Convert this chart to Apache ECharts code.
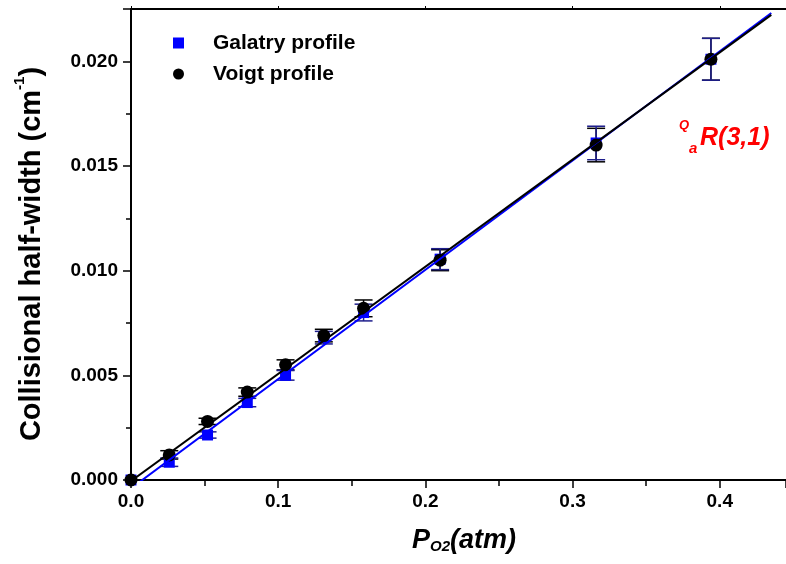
<!DOCTYPE html>
<html>
<head>
<meta charset="utf-8">
<script src="https://cdn.jsdelivr.net/npm/echarts@6/dist/echarts.min.js"></script>
<style>
  html, body { margin: 0; padding: 0; background: #fff; }
  #chart { width: 786px; height: 564px; }
</style>
</head>
<body>
<div id="chart"></div>
<script>
// O2 pressure (atm)
const pressure   = [0, 0.026, 0.052, 0.079, 0.105, 0.131, 0.158, 0.210, 0.316, 0.394];
// collisional half-width (cm-1), Galatry profile
const galatry    = [0, 0.00085, 0.00215, 0.0037, 0.0050, 0.0068, 0.0080, 0.01055, 0.0161, 0.0201];
const galatryErr = [0, 0.0002, 0.00015, 0.0002, 0.00023, 0.0003, 0.0004, 0.0005, 0.0008, 0.0010];
// Voigt profile
const voigt      = [0, 0.0012, 0.0028, 0.0042, 0.0055, 0.0069, 0.0082, 0.0105, 0.0160, 0.0201];
const voigtErr   = [0, 0.0002, 0.00015, 0.0002, 0.00024, 0.0003, 0.0004, 0.0005, 0.0008, 0.0010];
// linear fits: [intercept, slope]
const galatryFit = [-0.00040, 0.0522];
const voigtFit   = [-0.00005, 0.0512];
const fitRange   = [0, 0.435];

const FONT = '"Liberation Sans", Arial, sans-serif';
const BLUE = '#0000ff';
const NAVY = '#1e1e8c';

const chart = echarts.init(document.getElementById('chart'));

function pts(ys, errs) {
    return pressure.map((x, i) => errs ? [x, ys[i], errs[i]] : [x, ys[i]]);
}
function fitLine(f) {
    return fitRange.map(x => [x, f[0] + f[1] * x]);
}
function errorBar(color) {
    return function (params, api) {
        const x = api.value(0), y = api.value(1), e = api.value(2);
        if (!e) return null;
        const top = api.coord([x, y + e]);
        const bot = api.coord([x, y - e]);
        const w = 9;
        const style = { stroke: color, lineWidth: 1.5 };
        return {
            type: 'group',
            children: [
                { type: 'line', shape: { x1: top[0], y1: top[1], x2: bot[0], y2: bot[1] }, style },
                { type: 'line', shape: { x1: top[0] - w, y1: top[1], x2: top[0] + w, y2: top[1] }, style },
                { type: 'line', shape: { x1: bot[0] - w, y1: bot[1], x2: bot[0] + w, y2: bot[1] }, style }
            ]
        };
    };
}

const axisLine = { show: true, lineStyle: { color: '#000', width: 2 } };
const tickLabel = { color: '#000', fontFamily: FONT, fontWeight: 'bold', fontSize: 19 };

const option = {
    animation: false,
    grid: { left: 131, right: 0, top: 9, bottom: 84 },
    legend: {
        left: 173, top: 32, orient: 'vertical', padding: 0,
        itemWidth: 11, itemHeight: 11, itemGap: 9,
        data: [{ name: 'Galatry profile', icon: 'rect' }, { name: 'Voigt profile', icon: 'circle' }],
        textStyle: { color: '#000', fontFamily: FONT, fontWeight: 'bold', fontSize: 21,
                     lineHeight: 22, padding: [0, 0, 0, 24] }
    },
    xAxis: [{
        type: 'value', position: 'bottom', min: 0, max: 0.445, interval: 0.1,
        axisLine,
        axisTick: { show: true, length: 8, lineStyle: { color: '#000', width: 1.5 } },
        minorTick: { show: true, splitNumber: 2, length: 6, lineStyle: { color: '#000', width: 1.5 } },
        splitLine: { show: false },
        axisLabel: Object.assign({ margin: 12, showMaxLabel: false,
                                   formatter: v => v.toFixed(1) }, tickLabel)
    }, {
        type: 'value', position: 'top', min: 0, max: 0.445, interval: 0.1,
        axisLine,
        axisTick: { show: true, length: 3, lineStyle: { color: '#000', width: 1 } },
        splitLine: { show: false },
        axisLabel: { show: false }
    }],
    yAxis: {
        type: 'value', min: 0, max: 0.0225, interval: 0.005,
        axisLine,
        axisTick: { show: true, length: 8, lineStyle: { color: '#000', width: 1.5 } },
        minorTick: { show: true, splitNumber: 2, length: 5, lineStyle: { color: '#000', width: 1.5 } },
        splitLine: { show: false },
        axisLabel: Object.assign({ margin: 13, showMaxLabel: false,
                                   formatter: v => v.toFixed(3) }, tickLabel)
    },
    series: [
        { type: 'custom', name: 'voigtErr', renderItem: errorBar('#000'), data: pts(voigt, voigtErr), z: 2, silent: true },
        { type: 'custom', name: 'galatryErr', renderItem: errorBar(NAVY), data: pts(galatry, galatryErr), z: 2, silent: true },
        { type: 'scatter', name: 'Galatry profile', symbol: 'rect', symbolSize: 11,
          itemStyle: { color: BLUE, opacity: 1 }, data: pts(galatry), z: 3 },
        { type: 'scatter', name: 'Voigt profile', symbol: 'circle', symbolSize: 13,
          itemStyle: { color: '#000', opacity: 1 }, data: pts(voigt), z: 4 },
        { type: 'line', name: 'galatryFit', data: fitLine(galatryFit), showSymbol: false,
          lineStyle: { color: BLUE, width: 2 }, itemStyle: { color: BLUE }, z: 5, silent: true },
        { type: 'line', name: 'voigtFit', data: fitLine(voigtFit), showSymbol: false,
          lineStyle: { color: '#000', width: 2 }, itemStyle: { color: '#000' }, z: 5, silent: true }
    ],
    graphic: [
        {   // y axis title
            type: 'text', x: 29, y: 254, rotation: Math.PI / 2,
            style: {
                text: '{a|Collisional half-width (cm}{s|-1}{a|)}',
                align: 'center', verticalAlign: 'middle',
                rich: {
                    a: { fontFamily: FONT, fontWeight: 'bold', fontSize: 29, lineHeight: 34, fill: '#000', verticalAlign: 'bottom' },
                    s: { fontFamily: FONT, fontWeight: 'bold', fontSize: 15, lineHeight: 15, fill: '#000', verticalAlign: 'top' }
                }
            }
        },
        {   // x axis title
            type: 'text', x: 464, y: 539,
            style: {
                text: '{p|P}{s|O2}{p|(atm)}',
                align: 'center', verticalAlign: 'middle',
                rich: {
                    p: { fontFamily: FONT, fontWeight: 'bold', fontStyle: 'italic', fontSize: 27, lineHeight: 30, fill: '#000', verticalAlign: 'bottom' },
                    s: { fontFamily: FONT, fontWeight: 'bold', fontStyle: 'italic', fontSize: 15, lineHeight: 6, fill: '#000', verticalAlign: 'bottom' }
                }
            }
        },
        {   // line label
            type: 'text', x: 679, y: 125,
            style: { text: 'Q', fontFamily: FONT, fontWeight: 'bold', fontStyle: 'italic', fontSize: 13,
                     fill: '#ff0000', verticalAlign: 'middle' }
        },
        {
            type: 'text', x: 689, y: 149,
            style: { text: 'a', fontFamily: FONT, fontWeight: 'bold', fontStyle: 'italic', fontSize: 15,
                     fill: '#ff0000', verticalAlign: 'middle' }
        },
        {
            type: 'text', x: 700, y: 138,
            style: { text: 'R(3,1)', fontFamily: FONT, fontWeight: 'bold', fontStyle: 'italic', fontSize: 25,
                     fill: '#ff0000', verticalAlign: 'middle' }
        }
    ]
};

chart.setOption(option);
window.addEventListener('resize', () => chart.resize());
</script>
</body>
</html>
